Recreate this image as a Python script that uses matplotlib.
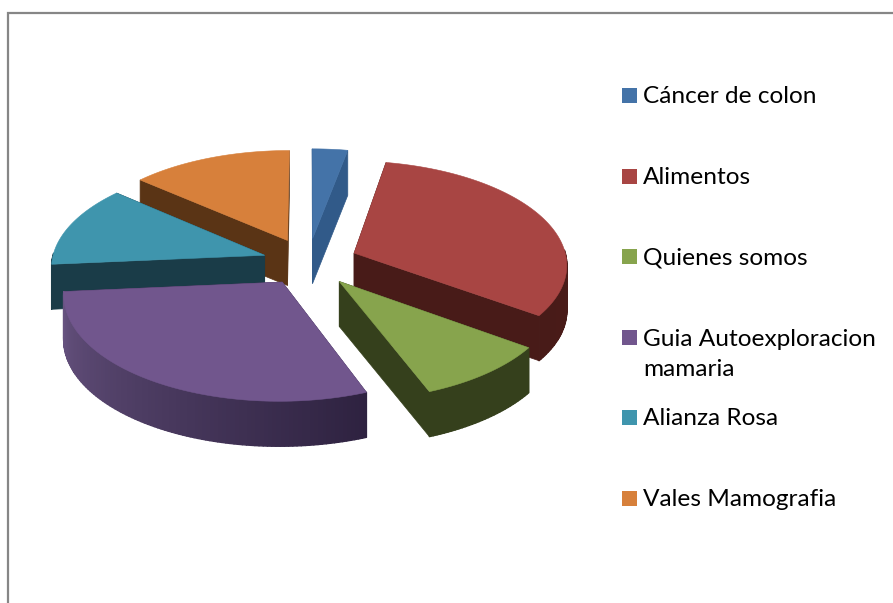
import numpy as np
import matplotlib
matplotlib.use("Agg")
import matplotlib.pyplot as plt
from matplotlib.patches import Polygon, Rectangle
from matplotlib.collections import PolyCollection
from matplotlib.colors import to_rgb

categories = ["Cáncer de colon", "Alimentos", "Quienes somos",
              "Guia Autoexploracion\nmamaria", "Alianza Rosa", "Vales Mamografia"]
values = [3.0, 31.9, 9.2, 29.5, 12.7, 13.7]
explode = [0.235, 0.235, 0.235, 0.225, 0.215, 0.235]
top_colors = ["#4473A8", "#A84543", "#87A44D", "#71568D", "#3F95AD", "#D7803B"]
face_colors = ["#315A89", "#481B18", "#35401C", "#3A2C50", "#1A3C48", "#5A3415"]
wall_start = ["#315A89", "#4E1E1B", "#35401C", "#2E2240", "#1A3C48", "#5A3415"]
wall_end = ["#315A89", "#481B18", "#35401C", "#675380", "#1A3C48", "#5A3415"]
draw_order = [0, 5, 4, 1, 3, 2]
legend_y = [95, 176, 256, 337, 417, 498]

R, RY, PERSP, DEPTH = 213, 103, 0.10, 45
CX, CY = 308, 262

fig = plt.figure(figsize=(8.93, 6.03), dpi=100, facecolor="white")
ax = fig.add_axes([0, 0, 1, 1])
ax.set_xlim(0, 893)
ax.set_ylim(603, 0)
ax.axis("off")


def project(X, Y):
    w = 1 + PERSP * Y
    return CX + R * X / w, CY - RY * Y / w


edges = np.concatenate([[0], np.cumsum(values)]) / np.sum(values) * 2 * np.pi
for i in draw_order:
    a, b = edges[i], edges[i + 1]
    mid = (a + b) / 2
    ox, oy = explode[i] * np.sin(mid), explode[i] * np.cos(mid)
    t = np.linspace(a, b, max(int(np.degrees(b - a)), 2) + 1)
    px, py = project(ox + np.sin(t), oy + np.cos(t))
    ax_, ay_ = project(ox, oy)
    arc = np.column_stack([px, py])
    apex = np.array([ax_, ay_])
    down = np.array([0, DEPTH])
    base_z = 1 + draw_order.index(i) * 3
    for p in (arc[0], arc[-1]):
        ax.add_patch(Polygon([apex, p, p + down, apex + down], closed=True,
                             fc=face_colors[i], ec=face_colors[i], lw=0.5, zorder=base_z))
    quads, cols = [], []
    c0, c1 = np.array(to_rgb(wall_start[i])), np.array(to_rgb(wall_end[i]))
    for j in range(len(t) - 1):
        mt = (t[j] + t[j + 1]) / 2
        if np.cos(mt) > 0.02:
            continue
        quads.append([arc[j], arc[j + 1], arc[j + 1] + down, arc[j] + down])
        f = j / max(len(t) - 2, 1)
        cols.append(c0 + (c1 - c0) * f)
    if quads:
        ax.add_collection(PolyCollection(quads, facecolors=cols, edgecolors=cols, linewidths=1.0,
                                         zorder=base_z + 1))
    ax.add_patch(Polygon(np.vstack([apex, arc]), closed=True, fc=top_colors[i], ec=top_colors[i],
                         lw=0.4, zorder=base_z + 2))

for name, col, y in zip(categories, top_colors, legend_y):
    ax.add_patch(Rectangle((622, y - 7.5), 15, 15, fc=col, ec="none"))
    ax.text(643, y + 8 + 31 * name.count("\n"), name, family="Lato", fontsize=17.6, color="black",
            va="baseline", ha="left", linespacing=1.52)

# chart frame, cropped by the image on the right and at the bottom
ax.plot([8, 8, 893], [603, 13, 13], color="#868686", lw=1.6, solid_joinstyle="miter")

fig.savefig("out.png", dpi=100)
